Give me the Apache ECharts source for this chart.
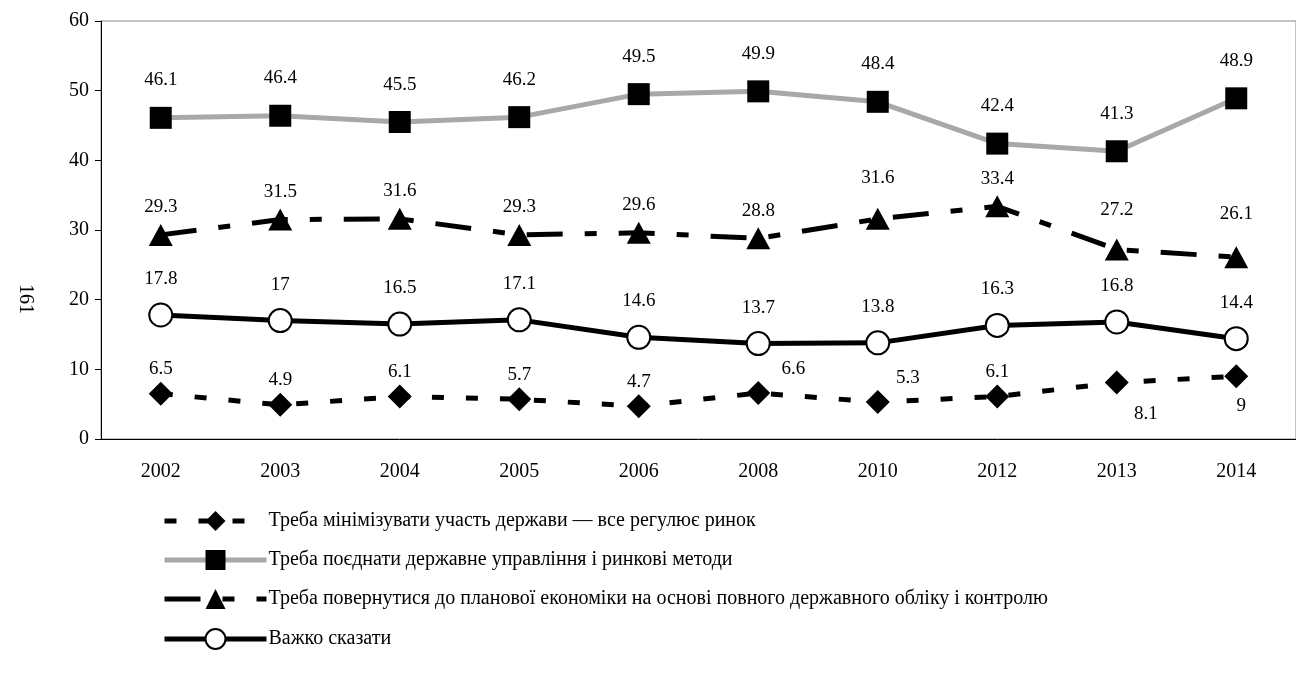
<!DOCTYPE html>
<html>
<head>
<meta charset="utf-8">
<script src="https://cdn.jsdelivr.net/npm/echarts@6/dist/echarts.min.js"></script>
<style>html,body{margin:0;padding:0;background:#fff}#c{width:1296px;height:693px}</style>
</head>
<body>
<div id="c"></div>
<script>
var years = ['2002','2003','2004','2005','2006','2008','2010','2012','2013','2014'];
var minimize = [6.5, 4.9, 6.1, 5.7, 4.7, 6.6, 5.3, 6.1, 8.1, 9];
var combine = [46.1, 46.4, 45.5, 46.2, 49.5, 49.9, 48.4, 42.4, 41.3, 48.9];
var planned = [29.3, 31.5, 31.6, 29.3, 29.6, 28.8, 31.6, 33.4, 27.2, 26.1];
var hard = [17.8, 17, 16.5, 17.1, 14.6, 13.7, 13.8, 16.3, 16.8, 14.4];
var names = [
  'Треба мінімізувати участь держави — все регулює ринок',
  'Треба поєднати державне управління і ринкові методи',
  'Треба повернутися до планової економіки на основі повного державного обліку і контролю',
  'Важко сказати'
];
var yTicks = [0, 10, 20, 30, 40, 50, 60];

var FONT = 'Liberation Serif';
var lbl = {show: true, color: '#000', fontFamily: FONT, fontSize: 19};

function withLabels(values, overrides) {
  return values.map(function (v, i) {
    var o = overrides[i];
    return o ? {value: v, label: o} : v;
  });
}

var chart = echarts.init(document.getElementById('c'));
chart.setOption({
  animation: false,
  textStyle: {fontFamily: FONT},
  grid: {left: 101, right: -1, top: 21, bottom: 254, show: true, borderColor: '#888', borderWidth: 1},
  legend: {
    orient: 'vertical', left: 157, top: 506, itemWidth: 102, itemHeight: 25, itemGap: 19,
    textStyle: {fontFamily: FONT, fontSize: 20, color: '#000', padding: [0, 0, 0, -3]},
    lineStyle: {width: 5},
    data: names
  },
  graphic: [{
    type: 'text', left: 15, top: 284, rotation: -Math.PI / 2,
    style: {text: '161', font: '20px "Liberation Serif"', fill: '#000'}
  }],
  xAxis: {
    type: 'category', data: years, boundaryGap: true,
    axisLine: {lineStyle: {color: '#000', width: 1}},
    axisTick: {length: 6, lineStyle: {color: '#000'}},
    axisLabel: {color: '#000', fontFamily: FONT, fontSize: 20, margin: 23}
  },
  yAxis: {
    type: 'value', min: yTicks[0], max: yTicks[yTicks.length - 1], interval: 10,
    axisLine: {show: true, lineStyle: {color: '#000', width: 1}},
    axisTick: {show: true, length: 6, lineStyle: {color: '#000'}},
    splitLine: {show: false},
    axisLabel: {color: '#000', fontFamily: FONT, fontSize: 20, margin: 12}
  },
  series: [
    {
      name: names[0], type: 'line',
      data: withLabels(minimize, {
        5: {offset: [35, 0]},
        6: {offset: [30, 0]},
        8: {position: 'bottom', distance: 10, offset: [29, 0]},
        9: {position: 'bottom', distance: 8, offset: [5, 0]}
      }),
      symbol: 'diamond', symbolSize: 24,
      itemStyle: {color: '#000'},
      lineStyle: {color: '#000', width: 5, type: [12, 22]},
      label: Object.assign({position: 'top', distance: 3}, lbl)
    },
    {
      name: names[1], type: 'line', data: combine,
      symbol: 'rect', symbolSize: 22,
      itemStyle: {color: '#000'},
      lineStyle: {color: '#a8a8a8', width: 5},
      label: Object.assign({position: 'top', distance: 17}, lbl)
    },
    {
      name: names[2], type: 'line',
      data: withLabels(planned, {
        6: {offset: [0, -13]},
        8: {offset: [0, -12]},
        9: {offset: [0, -16]}
      }),
      symbol: 'triangle', symbolSize: [24, 22],
      itemStyle: {color: '#000'},
      lineStyle: {color: '#000', width: 5, type: [36, 22, 12, 22]},
      label: Object.assign({position: 'top', distance: 7}, lbl)
    },
    {
      name: names[3], type: 'line', data: hard,
      symbol: 'circle', symbolSize: 23,
      itemStyle: {color: '#fff', borderColor: '#000', borderWidth: 2},
      lineStyle: {color: '#000', width: 5},
      label: Object.assign({position: 'top', distance: 14}, lbl)
    }
  ]
});
</script>
</body>
</html>
